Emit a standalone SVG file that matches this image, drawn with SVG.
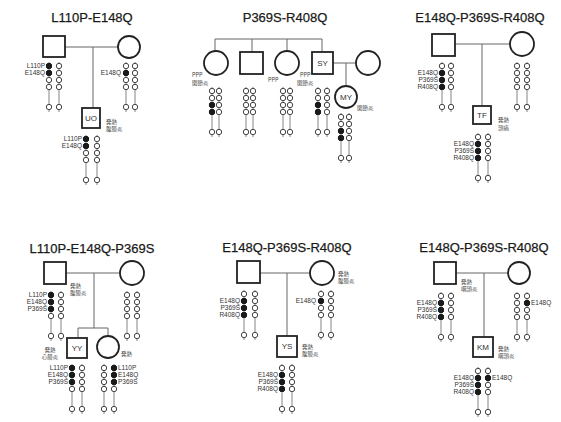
<svg xmlns="http://www.w3.org/2000/svg" width="561" height="422" viewBox="0 0 561 422">
<style>
.t{font-family:"Liberation Sans","Noto Sans CJK JP",sans-serif;font-size:13px;fill:#1a1a1a;stroke:#1a1a1a;stroke-width:0.25;text-anchor:middle}
.n{font-family:"Liberation Sans",sans-serif;font-size:8px;fill:#333;text-anchor:middle}
.m{font-family:"Liberation Sans",sans-serif;font-size:6.5px;fill:#333;text-anchor:end}
.ms{font-family:"Liberation Sans",sans-serif;font-size:6.5px;fill:#333}
.j{font-family:"Noto Sans CJK JP","Liberation Sans",sans-serif;font-size:5.5px;fill:#444}
.nd{fill:#fff;stroke:#222;stroke-width:1.8}
.c{fill:none;stroke:#666;stroke-width:1}
.bd{fill:#fff;stroke:#444;stroke-width:1}
.fb{fill:#1a1a1a;stroke:#1a1a1a;stroke-width:1}
.cl{stroke:#777;stroke-width:0.9}
</style>
<defs>
<g id="chr">
<line class="cl" x1="0" y1="0" x2="0" y2="50"/>
<circle class="bd" cx="0" cy="4" r="2.7"/>
<circle class="bd" cx="0" cy="11" r="2.7"/>
<circle class="bd" cx="0" cy="18" r="2.7"/>
<circle class="bd" cx="0" cy="25" r="2.7"/>
<circle class="bd" cx="0" cy="45" r="2.7"/>
</g>
<circle id="f" class="fb" cx="0" cy="0" r="2.7"/>
</defs>
<rect width="561" height="422" fill="#fff"/>

<g id="titles">
<text class="t" x="92" y="22">L110P-E148Q</text>
<text class="t" x="285" y="22">P369S-R408Q</text>
<text class="t" x="480" y="22">E148Q-P369S-R408Q</text>
<text class="t" x="92" y="253">L110P-E148Q-P369S</text>
<text class="t" x="287" y="252">E148Q-P369S-R408Q</text>
<text class="t" x="484" y="252">E148Q-P369S-R408Q</text>
</g>

<g id="connectors" class="c">
<path d="M65 47H118M93 47V108"/>
<path d="M215 39H322M215 39V51M252 39V52M287 39V51M322 39V52M333 63H356M346 63V86"/>
<path d="M455 44H510M482 44V106"/>
<path d="M66 273H120M94 273V328M78 328H108M78 328V338M108 328V336"/>
<path d="M260 273H310M287 273V336"/>
<path d="M456 273H508M484 273V337"/>
</g>

<!-- Panel 1 -->
<g id="p1-father">
<rect class="nd" x="43" y="36" width="22" height="21"/>
<use href="#chr" x="49" y="62"/><use href="#chr" x="59" y="62"/>
<use href="#f" x="49" y="66"/><use href="#f" x="49" y="73"/>
<text class="m" x="45" y="68">L110P</text><text class="m" x="45" y="75">E148Q</text>
</g>
<g id="p1-mother">
<circle class="nd" cx="129" cy="47" r="11"/>
<use href="#chr" x="126" y="62"/><use href="#chr" x="135" y="62"/>
<use href="#f" x="126" y="73"/>
<text class="m" x="121" y="75">E148Q</text>
</g>
<g id="p1-UO">
<rect class="nd" x="82" y="108" width="18" height="20"/>
<text class="n" x="91" y="121">UO</text>
<text class="j" x="106" y="124">発熱</text><text class="j" x="106" y="131">腹膜炎</text>
<use href="#chr" x="86" y="135"/><use href="#chr" x="97" y="135"/>
<use href="#f" x="86" y="139"/><use href="#f" x="86" y="146"/>
<text class="m" x="82" y="141">L110P</text><text class="m" x="82" y="148">E148Q</text>
</g>

<!-- Panel 2 -->
<g id="p2-sister1">
<circle class="nd" cx="216" cy="63" r="12"/>
<use href="#chr" x="212" y="87"/><use href="#chr" x="219" y="87"/>
<use href="#f" x="212" y="105"/><use href="#f" x="212" y="112"/>
<text class="j" x="192" y="77">PPP</text><text class="j" x="192" y="85">関節炎</text>
</g>
<g id="p2-brother">
<rect class="nd" x="240" y="52" width="23" height="22"/>
<use href="#chr" x="246" y="87"/><use href="#chr" x="253" y="87"/>
</g>
<g id="p2-sister2">
<circle class="nd" cx="287" cy="63" r="12"/>
<use href="#chr" x="283" y="87"/><use href="#chr" x="290" y="87"/>
<text class="j" x="268" y="82">PPP</text>
</g>
<g id="p2-SY">
<rect class="nd" x="312" y="52" width="21" height="22"/>
<text class="n" x="322.5" y="66">SY</text>
<use href="#chr" x="318" y="87"/><use href="#chr" x="327" y="87"/>
<use href="#f" x="318" y="105"/><use href="#f" x="318" y="112"/>
<text class="j" x="300" y="77">PPP</text><text class="j" x="297" y="85">関節炎</text>
</g>
<g id="p2-spouse">
<circle class="nd" cx="368" cy="63" r="12"/>
</g>
<g id="p2-MY">
<circle class="nd" cx="346" cy="97" r="11"/>
<text class="n" x="346" y="100">MY</text>
<text class="j" x="357" y="110">関節炎</text>
<use href="#chr" x="341" y="113"/><use href="#chr" x="349" y="113"/>
<use href="#f" x="341" y="131"/><use href="#f" x="341" y="138"/>
</g>

<!-- Panel 3 -->
<g id="p3-father">
<rect class="nd" x="432" y="34" width="23" height="22"/>
<use href="#chr" x="442" y="62"/><use href="#chr" x="451" y="62"/>
<use href="#f" x="442" y="73"/><use href="#f" x="442" y="80"/><use href="#f" x="442" y="87"/>
<text class="m" x="438" y="75">E148Q</text><text class="m" x="438" y="82">P369S</text><text class="m" x="438" y="89">R408Q</text>
</g>
<g id="p3-mother">
<circle class="nd" cx="522" cy="44" r="12"/>
<use href="#chr" x="517" y="62"/><use href="#chr" x="527" y="62"/>
</g>
<g id="p3-TF">
<rect class="nd" x="473" y="106" width="18" height="18"/>
<text class="n" x="482" y="118">TF</text>
<text class="j" x="498" y="122">発熱</text><text class="j" x="498" y="130">頭痛</text>
<use href="#chr" x="478" y="133"/><use href="#chr" x="488" y="133"/>
<use href="#f" x="478" y="144"/><use href="#f" x="478" y="151"/><use href="#f" x="478" y="158"/>
<text class="m" x="474" y="146">E148Q</text><text class="m" x="474" y="153">P369S</text><text class="m" x="474" y="160">R408Q</text>
</g>

<!-- Panel 4 -->
<g id="p4-father">
<rect class="nd" x="44" y="262" width="22" height="22"/>
<text class="j" x="70" y="288">発熱</text><text class="j" x="70" y="295">腹膜炎</text>
<use href="#chr" x="51" y="291"/><use href="#chr" x="61" y="291"/>
<use href="#f" x="51" y="295"/><use href="#f" x="51" y="302"/><use href="#f" x="51" y="309"/>
<text class="m" x="47" y="297">L110P</text><text class="m" x="47" y="304">E148Q</text><text class="m" x="47" y="311">P369S</text>
</g>
<g id="p4-mother">
<circle class="nd" cx="132" cy="273" r="12"/>
<use href="#chr" x="127" y="291"/><use href="#chr" x="137" y="291"/>
</g>
<g id="p4-YY">
<rect class="nd" x="67" y="338" width="20" height="20"/>
<text class="n" x="77" y="351">YY</text>
<text class="j" x="50" y="352" text-anchor="middle">発熱</text><text class="j" x="50" y="359" text-anchor="middle">心膜炎</text>
<use href="#chr" x="72" y="364"/><use href="#chr" x="82" y="364"/>
<use href="#f" x="72" y="368"/><use href="#f" x="72" y="375"/><use href="#f" x="72" y="382"/>
<text class="m" x="68" y="370">L110P</text><text class="m" x="68" y="377">E148Q</text><text class="m" x="68" y="384">P369S</text>
</g>
<g id="p4-daughter">
<circle class="nd" cx="108" cy="347" r="11"/>
<text class="j" x="121" y="356">発熱</text>
<use href="#chr" x="104" y="364"/><use href="#chr" x="114" y="364"/>
<use href="#f" x="114" y="368"/><use href="#f" x="114" y="375"/><use href="#f" x="114" y="382"/>
<text class="ms" x="118" y="370">L110P</text><text class="ms" x="118" y="377">E148Q</text><text class="ms" x="118" y="384">P369S</text>
</g>

<!-- Panel 5 -->
<g id="p5-father">
<rect class="nd" x="237" y="261" width="23" height="22"/>
<use href="#chr" x="244" y="290"/><use href="#chr" x="255" y="290"/>
<use href="#f" x="244" y="301"/><use href="#f" x="244" y="308"/><use href="#f" x="244" y="315"/>
<text class="m" x="240" y="303">E148Q</text><text class="m" x="240" y="310">P369S</text><text class="m" x="240" y="317">R408Q</text>
</g>
<g id="p5-mother">
<circle class="nd" cx="322" cy="273" r="12"/>
<text class="j" x="338" y="276">発熱</text><text class="j" x="338" y="283">腹膜炎</text>
<use href="#chr" x="321" y="290"/><use href="#chr" x="331" y="290"/>
<use href="#f" x="321" y="301"/>
<text class="m" x="316" y="303">E148Q</text>
</g>
<g id="p5-YS">
<rect class="nd" x="277" y="336" width="20" height="21"/>
<text class="n" x="287" y="349">YS</text>
<text class="j" x="302" y="349">発熱</text><text class="j" x="302" y="356">腹膜炎</text>
<use href="#chr" x="282" y="364"/><use href="#chr" x="292" y="364"/>
<use href="#f" x="282" y="375"/><use href="#f" x="282" y="382"/><use href="#f" x="282" y="389"/>
<text class="m" x="278" y="377">E148Q</text><text class="m" x="278" y="384">P369S</text><text class="m" x="278" y="391">R408Q</text>
</g>

<!-- Panel 6 -->
<g id="p6-father">
<rect class="nd" x="434" y="262" width="22" height="22"/>
<text class="j" x="461" y="284">発熱</text><text class="j" x="461" y="291">咽頭炎</text>
<use href="#chr" x="441" y="292"/><use href="#chr" x="451" y="292"/>
<use href="#f" x="441" y="303"/><use href="#f" x="441" y="310"/><use href="#f" x="441" y="317"/>
<text class="m" x="437" y="305">E148Q</text><text class="m" x="437" y="312">P369S</text><text class="m" x="437" y="319">R408Q</text>
</g>
<g id="p6-mother">
<circle class="nd" cx="519" cy="273" r="11"/>
<use href="#chr" x="517" y="292"/><use href="#chr" x="527" y="292"/>
<use href="#f" x="527" y="303"/>
<text class="ms" x="531" y="305">E148Q</text>
</g>
<g id="p6-KM">
<rect class="nd" x="473" y="337" width="20" height="20"/>
<text class="n" x="483" y="350">KM</text>
<text class="j" x="498" y="351">発熱</text><text class="j" x="498" y="358">咽頭炎</text>
<use href="#chr" x="478" y="367"/><use href="#chr" x="488" y="367"/>
<use href="#f" x="478" y="378"/><use href="#f" x="478" y="385"/><use href="#f" x="478" y="392"/>
<use href="#f" x="488" y="378"/>
<text class="m" x="474" y="380">E148Q</text><text class="m" x="474" y="387">P369S</text><text class="m" x="474" y="394">R408Q</text>
<text class="ms" x="492" y="380">E148Q</text>
</g>
</svg>
